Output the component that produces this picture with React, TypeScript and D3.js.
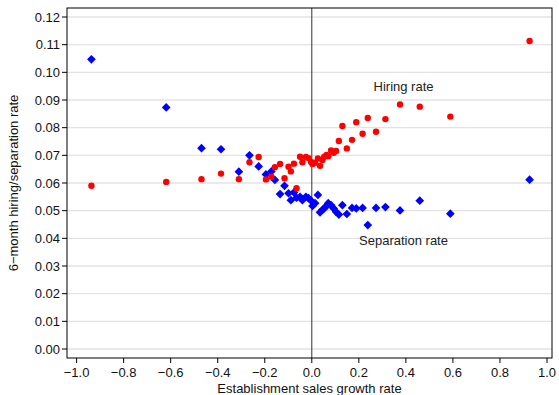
import { scaleLinear, format, symbol, symbolSquare } from 'd3'
import { useEffect } from 'react'

const width = 559
const height = 395

// frame of the plot area
const frame = { left: 67, right: 552, top: 8, bottom: 358 }

// binned establishment sales growth (shared by both series)
const growth = [
  -0.937, -0.619, -0.469, -0.386, -0.31, -0.265, -0.226, -0.195, -0.172, -0.157,
  -0.135, -0.116, -0.099, -0.089, -0.076, -0.065, -0.05, -0.04, -0.025, -0.014,
  -0.003, 0.003, 0.014, 0.026, 0.035, 0.045, 0.053, 0.063, 0.07, 0.082, 0.093,
  0.103, 0.115, 0.13, 0.149, 0.171, 0.189, 0.216, 0.238, 0.273, 0.313, 0.375,
  0.459, 0.589, 0.926,
]

const hiring = [
  0.059, 0.0604, 0.0614, 0.0634, 0.0614, 0.0675, 0.0694, 0.0613, 0.0623, 0.0657,
  0.0669, 0.0617, 0.0659, 0.0642, 0.067, 0.0581, 0.0695, 0.0675, 0.0694, 0.069,
  0.0676, 0.0669, 0.0673, 0.0689, 0.0662, 0.0683, 0.0695, 0.0701, 0.0697, 0.0718,
  0.0709, 0.0716, 0.0752, 0.0806, 0.0725, 0.0756, 0.082, 0.0778, 0.0835, 0.0785,
  0.0831, 0.0884, 0.0876, 0.084, 0.1113,
]

const separation = [
  0.1047, 0.0873, 0.0726, 0.0722, 0.0641, 0.07, 0.066, 0.0631, 0.0642, 0.0611,
  0.056, 0.059, 0.0563, 0.0538, 0.0566, 0.0547, 0.055, 0.0538, 0.055, 0.0545,
  0.0536, 0.0517, 0.0527, 0.0557, 0.0494, 0.0503, 0.0508, 0.0518, 0.0527, 0.052,
  0.0508, 0.0496, 0.0486, 0.052, 0.0488, 0.051, 0.0508, 0.051, 0.0448, 0.051,
  0.0513, 0.0501, 0.0536, 0.0489, 0.0612,
]

const xTicks = [-1, -0.8, -0.6, -0.4, -0.2, 0, 0.2, 0.4, 0.6, 0.8, 1]
const yTicks = [0, 0.01, 0.02, 0.03, 0.04, 0.05, 0.06, 0.07, 0.08, 0.09, 0.1, 0.11, 0.12]

const labels = [
  { text: 'Hiring rate', x: 0.39, y: 0.0932 },
  { text: 'Separation rate', x: 0.39, y: 0.0375 },
]

const font = '"Liberation Sans", Arial, sans-serif'

const App = () => {
  useEffect(() => {
    document.body.style.margin = '0'
  }, [])

  const xScale = scaleLinear().domain([-1, 1]).range([76.6, 547])
  const yScale = scaleLinear().domain([0, 0.12]).range([349, 17])

  // square turned 45 degrees -> diamond of equal width and height
  const diamond = symbol().type(symbolSquare).size(38)()

  return (
    <svg width={width} height={height} style={{ display: 'block', fontFamily: font }}>
      <rect width={width} height={height} fill="white" />

      {/* grid */}
      {yTicks.map((t) => (
        <line
          key={'g' + t}
          x1={frame.left}
          x2={frame.right}
          y1={yScale(t)}
          y2={yScale(t)}
          stroke="#e3e3e3"
          strokeWidth={1.3}
        />
      ))}

      {/* zero line */}
      <line
        x1={xScale(0)}
        x2={xScale(0)}
        y1={frame.top}
        y2={frame.bottom}
        stroke="#333"
        strokeWidth={1}
      />

      {/* separation rate */}
      {growth.map((g, i) => (
        <path
          key={'s' + i}
          d={diamond}
          transform={`translate(${xScale(g)},${yScale(separation[i])}) rotate(45)`}
          fill="#0000ff"
        />
      ))}

      {/* hiring rate */}
      {growth.map((g, i) => (
        <circle key={'h' + i} cx={xScale(g)} cy={yScale(hiring[i])} r={3.2} fill="#ff0000" />
      ))}

      {labels.map((l) => (
        <text
          key={l.text}
          x={xScale(l.x)}
          y={yScale(l.y)}
          textAnchor="middle"
          fontSize={13}
          fill="#222"
        >
          {l.text}
        </text>
      ))}

      {/* frame */}
      <rect
        x={frame.left}
        y={frame.top}
        width={frame.right - frame.left}
        height={frame.bottom - frame.top}
        fill="none"
        stroke="black"
        strokeWidth={1}
      />

      {/* y axis */}
      {yTicks.map((t) => (
        <g key={'y' + t}>
          <line x1={frame.left - 5} x2={frame.left} y1={yScale(t)} y2={yScale(t)} stroke="black" />
          <text
            x={frame.left - 7}
            y={yScale(t)}
            dy="0.35em"
            textAnchor="end"
            fontSize={13}
            fill="#111"
          >
            {format('.2f')(t)}
          </text>
        </g>
      ))}

      {/* x axis */}
      {xTicks.map((t) => (
        <g key={'x' + t}>
          <line x1={xScale(t)} x2={xScale(t)} y1={frame.bottom} y2={frame.bottom + 5} stroke="black" />
          <text x={xScale(t)} y={frame.bottom + 19} textAnchor="middle" fontSize={13} fill="#111">
            {format('.1f')(t)}
          </text>
        </g>
      ))}

      <text
        x={(frame.left + frame.right) / 2}
        y={393}
        textAnchor="middle"
        fontSize={13}
        fill="#111"
      >
        Establishment sales growth rate
      </text>
      <text
        transform={`translate(18,${(frame.top + frame.bottom) / 2}) rotate(-90)`}
        textAnchor="middle"
        fontSize={13}
        fill="#111"
      >
        6−month hiring/separation rate
      </text>
    </svg>
  )
}

export default App
